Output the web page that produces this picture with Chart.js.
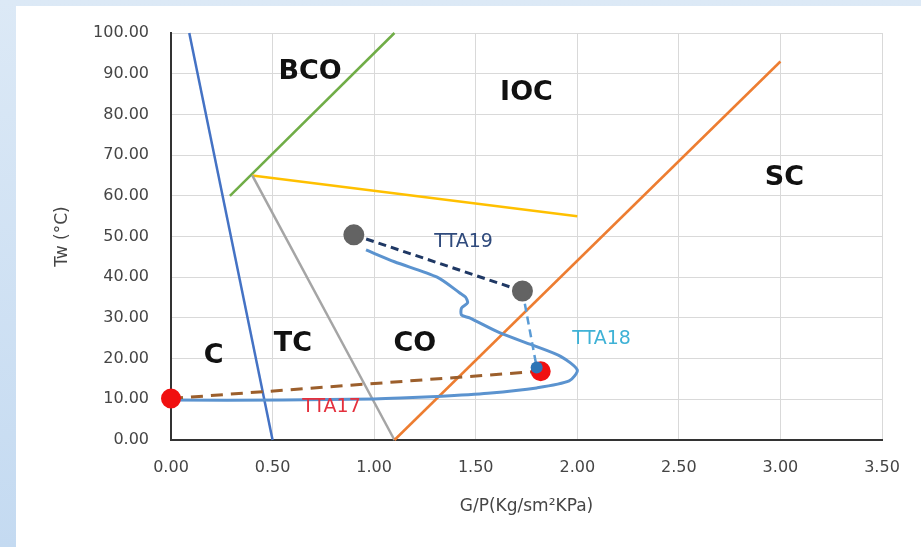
<!DOCTYPE html>
<html>
<head>
<meta charset="utf-8">
<script src="https://cdn.jsdelivr.net/npm/chart.js@4.4.0/dist/chart.umd.min.js"></script>
<style>
  html, body { margin: 0; padding: 0; width: 921px; height: 547px; overflow: hidden; }
  body { position: relative; background: linear-gradient(to bottom, #dce9f6, #c4daf1); }
  #panel { position: absolute; left: 16px; top: 6px; right: 0; bottom: 0; background: #fff; }
  #flowMap { position: absolute; left: 0; top: 0; }
</style>
</head>
<body>
<div id="panel"></div>
<canvas id="flowMap" width="921" height="547"></canvas>
<script>
// regime boundaries (x = G/P, y = Tw)
const cLineX = [0.09, 0.50];   const cLineY = [100, 0];
const bcoLineX = [0.29, 1.10]; const bcoLineY = [60, 100];
const iocLineX = [0.40, 2.00]; const iocLineY = [65, 55];
const tcLineX = [0.40, 1.10];  const tcLineY = [65, 0];
const scLineX = [1.10, 3.00];  const scLineY = [0, 93];

// measured trajectory
const pathX = [0.96, 1.10, 1.31, 1.42, 1.45, 1.46, 1.43, 1.43, 1.47, 1.62, 1.78, 1.92, 2.00, 1.96, 1.80, 1.56, 1.31, 1.13, 1.00, 0.55, 0.00];
const pathY = [46.7, 43.8, 40.0, 36.2, 35.1, 33.7, 32.4, 30.7, 30.0, 26.3, 23.3, 20.5, 17.2, 14.5, 12.8, 11.5, 10.7, 10.3, 10.1, 9.8, 9.8];

// test points
const tta19X = [0.90, 1.73]; const tta19Y = [50.4, 36.6];
const tta18X = [1.73, 1.80]; const tta18Y = [36.6, 17.9];
const tta17X = [0.00, 1.82]; const tta17Y = [10.2, 16.9];
const blueDotX = [1.80];     const blueDotY = [17.8];

// text in the plot
const zoneNames = ['BCO', 'IOC', 'SC', 'C', 'TC', 'CO'];
const zoneX = [0.685, 1.75, 3.02, 0.21, 0.60, 1.20];
const zoneY = [90.4, 85.3, 64.4, 20.6, 23.6, 23.6];
const tagNames = ['TTA19', 'TTA18', 'TTA17'];
const tagX = [1.44, 2.12, 0.79];
const tagY = [48.6, 24.8, 8.1];
const tagColors = ['#2f4a7c', '#3fb2d6', '#e4303d'];

function pts(xs, ys) { return xs.map((x, i) => ({ x: x, y: ys[i] })); }

function line(data, color, extra) {
  return Object.assign({
    data: data, showLine: true, borderColor: color, borderWidth: 2.5,
    pointRadius: 0, fill: false, clip: false
  }, extra || {});
}

const labelPlugin = {
  id: 'regionLabels',
  afterDatasetsDraw(chart) {
    const ctx = chart.ctx, xs = chart.scales.x, ys = chart.scales.y;
    ctx.save();
    ctx.textAlign = 'center';
    ctx.textBaseline = 'middle';
    ctx.font = 'bold 27px "DejaVu Sans"';
    ctx.fillStyle = '#111';
    zoneNames.forEach((t, i) => {
      ctx.fillText(t, xs.getPixelForValue(zoneX[i]), ys.getPixelForValue(zoneY[i]));
    });
    ctx.font = '19px "DejaVu Sans"';
    tagNames.forEach((t, i) => {
      ctx.fillStyle = tagColors[i];
      ctx.fillText(t, xs.getPixelForValue(tagX[i]), ys.getPixelForValue(tagY[i]));
    });
    ctx.restore();
  }
};

const ctx = document.getElementById('flowMap').getContext('2d');
new Chart(ctx, {
  type: 'scatter',
  data: {
    datasets: [
      line(pts(blueDotX, blueDotY), '#2e75b6', { showLine: false, pointRadius: 6, pointBackgroundColor: '#2e75b6', pointBorderWidth: 0, order: 1 }),
      line(pts(tta19X, tta19Y), '#1f3864', { borderWidth: 3, borderDash: [8, 5], pointRadius: 9, pointBackgroundColor: '#636363', pointBorderColor: '#636363', order: 0 }),
      line(pts(tta17X, tta17Y), '#9c5f2c', { borderWidth: 3, borderDash: [12, 8], pointRadius: 8.5, pointBackgroundColor: '#f01010', pointBorderColor: '#f01010', order: 2 }),
      line(pts(tta18X, tta18Y), '#5b9bd5', { borderDash: [8, 5], order: 3 }),
      line(pts(pathX, pathY), '#5b93cf', { borderWidth: 3, tension: 0.25, order: 4 }),
      line(pts(scLineX, scLineY), '#ed7d31', { order: 5 }),
      line(pts(tcLineX, tcLineY), '#a5a5a5', { order: 6 }),
      line(pts(iocLineX, iocLineY), '#ffc000', { order: 7 }),
      line(pts(bcoLineX, bcoLineY), '#70ad47', { order: 8 }),
      line(pts(cLineX, cLineY), '#4472c4', { order: 9 })
    ]
  },
  options: {
    responsive: false,
    animation: false,
    layout: { padding: { top: 33, right: 39, left: 0, bottom: 0 } },
    plugins: { legend: { display: false }, tooltip: { enabled: false } },
    scales: {
      x: {
        type: 'linear', min: 0, max: 3.5,
        afterFit: s => { s.height = 107; },
        ticks: { stepSize: 0.5, padding: 18, color: '#454545', font: { family: 'DejaVu Sans', size: 16 }, callback: v => v.toFixed(2) },
        grid: { color: '#d9d9d9', drawTicks: false },
        border: { color: '#333', width: 2 },
        title: { display: true, text: 'G/P(Kg/sm²KPa)', color: '#454545', font: { family: 'DejaVu Sans', size: 17 }, padding: { bottom: 30 } }
      },
      y: {
        type: 'linear', min: 0, max: 100,
        afterFit: s => { s.width = 171; },
        ticks: { stepSize: 10, padding: 22, color: '#454545', font: { family: 'DejaVu Sans', size: 16 }, callback: v => v.toFixed(2) },
        grid: { color: '#d9d9d9', drawTicks: false },
        border: { color: '#333', width: 2 },
        title: { display: true, text: 'Tw (°C)', color: '#454545', font: { family: 'DejaVu Sans', size: 17 }, padding: { top: 52 } }
      }
    }
  },
  plugins: [labelPlugin]
});
</script>
</body>
</html>
